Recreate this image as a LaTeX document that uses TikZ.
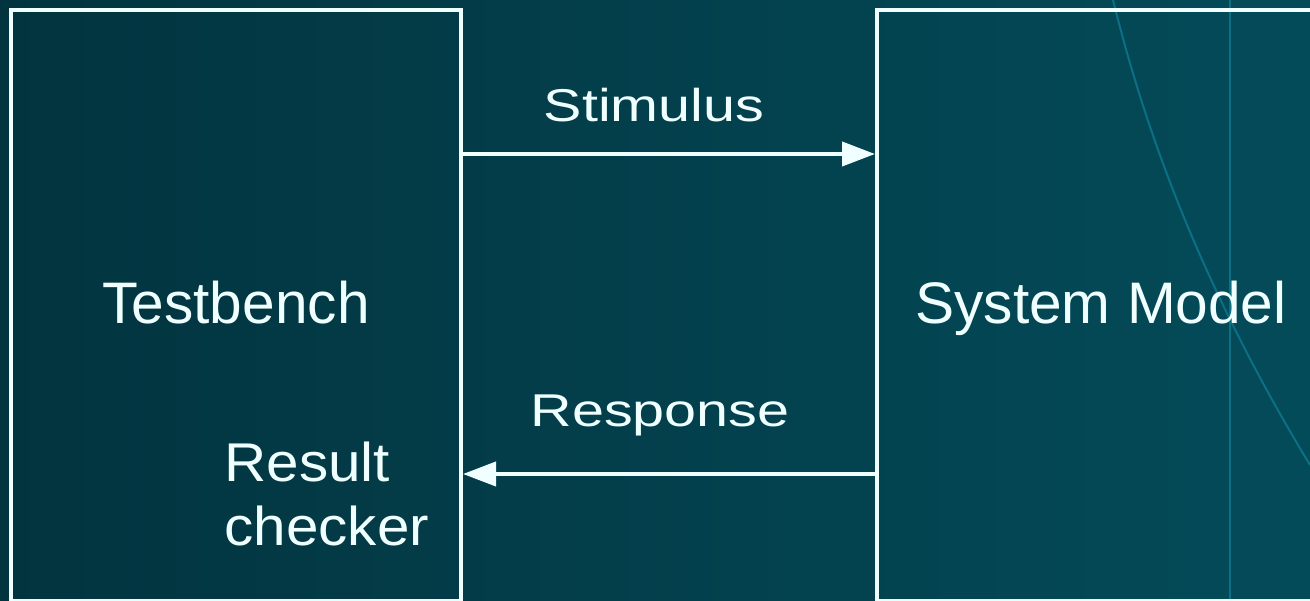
\documentclass[tikz,border=0pt]{standalone}
\usepackage{fontspec}
\setmainfont{Liberation Sans}
\newfontfamily\checkfont{Liberation Sans}[FakeStretch=1.07]
\usetikzlibrary{positioning}
\usetikzlibrary{arrows.meta}
\definecolor{bgdark}{HTML}{02343F}
\definecolor{bglight}{HTML}{044B59}
\definecolor{ink}{HTML}{F0FFFF}
\definecolor{trace}{HTML}{0B6F86}
\newcommand{\wide}[1]{\scalebox{1.25}[1]{#1}}

\begin{document}
\begin{tikzpicture}[x=0.5pt,y=0.5pt,on grid,>={Triangle[length=16.5pt,width=12pt]},
		block/.style={rectangle,draw=ink,line width=2pt,minimum height=295.5pt,inner sep=0pt},
		flow/.style={->,draw=ink,line width=2pt},
		title/.style={text=ink,font=\fontsize{29.3}{34}\selectfont,inner sep=0pt},
		tag/.style={text=ink,font=\fontsize{23}{28}\selectfont,inner sep=0pt,anchor=base}]
		\useasboundingbox (0,0) rectangle (1310,600);
		\fill[left color=bgdark,right color=bglight] (0,0) rectangle (1310,600);
		\draw[trace,line width=1pt] (1230,0) -- (1230,600);
		\draw[trace,line width=1pt] (1113,600) .. controls (1150,450) and (1210,300) .. (1310,135);
		
		\node[block,minimum width=225pt]   (tb)                        at (236,294.5) {};
		\node[block,minimum width=231.5pt] (sm) [right=436.25pt of tb]                {};
		
		\node[title,anchor=base]      (tbname) at (236,276.7) {Testbench};
		\node[title,anchor=base west] (smname) at (915,277)   {System Model};
		\node[text=ink,font=\checkfont\fontsize{27.3}{31.7}\selectfont,align=left,inner sep=0pt,anchor=base west]
		      (check) at (224,55) {Result\\checker};
		
		\draw[flow] ([yshift=75.75pt]tb.east) -- ([yshift=75.75pt]sm.west)
		      node[tag,midway,xshift=-7.5pt,yshift=16pt] (stim) {\wide{Stimulus}};
		\draw[flow] ([yshift=-84.25pt]sm.west) -- ([yshift=-84.25pt]tb.east)
		      node[tag,midway,xshift=-4.5pt,yshift=23.6pt] (resp) {\wide{Response}};
\end{tikzpicture}
\end{document}
